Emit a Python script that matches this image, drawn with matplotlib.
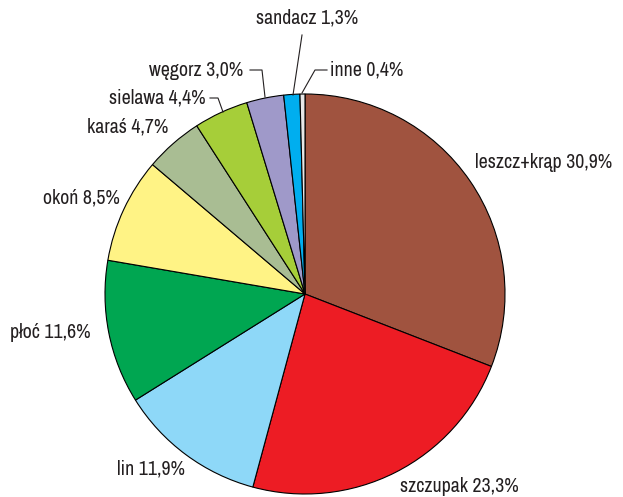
import matplotlib
matplotlib.use("Agg")
import matplotlib.pyplot as plt

names = ["leszcz+krąp", "szczupak", "lin", "płoć", "okoń", "karaś", "sielawa", "węgorz", "sandacz", "inne"]
values = [30.9, 23.3, 11.9, 11.6, 8.5, 4.7, 4.4, 3.0, 1.3, 0.4]
labels = ["leszcz+krąp 30,9%", "szczupak 23,3%", "lin 11,9%", "płoć 11,6%", "okoń 8,5%",
          "karaś 4,7%", "sielawa 4,4%", "węgorz 3,0%", "sandacz 1,3%", "inne 0,4%"]
colors = ["#A0533F", "#ED1C24", "#8ED8F8", "#00A651", "#FFF385",
          "#A9BD93", "#A6CE39", "#9F99C9", "#00AEEF", "#E8E8E8"]

fam = ["Archivo Narrow", "DejaVu Sans"]

W, H = 623, 497
fig = plt.figure(figsize=(W / 100, H / 100), dpi=100)
ax = fig.add_axes([0, 0, 1, 1])

cx, cy, r = 305, 294, 200
wedges, _ = ax.pie(values, colors=colors, startangle=-90, counterclock=True,
                   center=(cx, cy), radius=r, frame=True,
                   wedgeprops=dict(edgecolor="black", linewidth=0.8))
ax.set_xlim(0, W)
ax.set_ylim(H, 0)
ax.set_aspect("equal")
ax.axis("off")

fs = 14.3
txt = dict(fontsize=fs, family=fam, color="#231F20", va="center")
pos = {
    0: (475, 163, "left"),
    1: (400, 487, "left"),
    2: (117, 469, "left"),
    3: (10, 332, "left"),
    4: (43, 198, "left"),
    5: (87, 127, "left"),
    6: (206, 98, "right"),
    7: (243, 70, "right"),
    8: (307, 18, "center"),
    9: (330, 70, "left"),
}
for i, (x, y, ha) in pos.items():
    ax.text(x, y, labels[i], ha=ha, **txt)

lk = dict(color="#231F20", lw=0.8)
ax.plot([210, 218, 223], [98, 98, 112], **lk)
ax.plot([250, 262, 265], [70, 70, 97], **lk)
ax.plot([302, 293], [35, 95], **lk)
ax.plot([327, 315, 302], [70, 70, 93], **lk)

fig.savefig("out.png", dpi=100)
